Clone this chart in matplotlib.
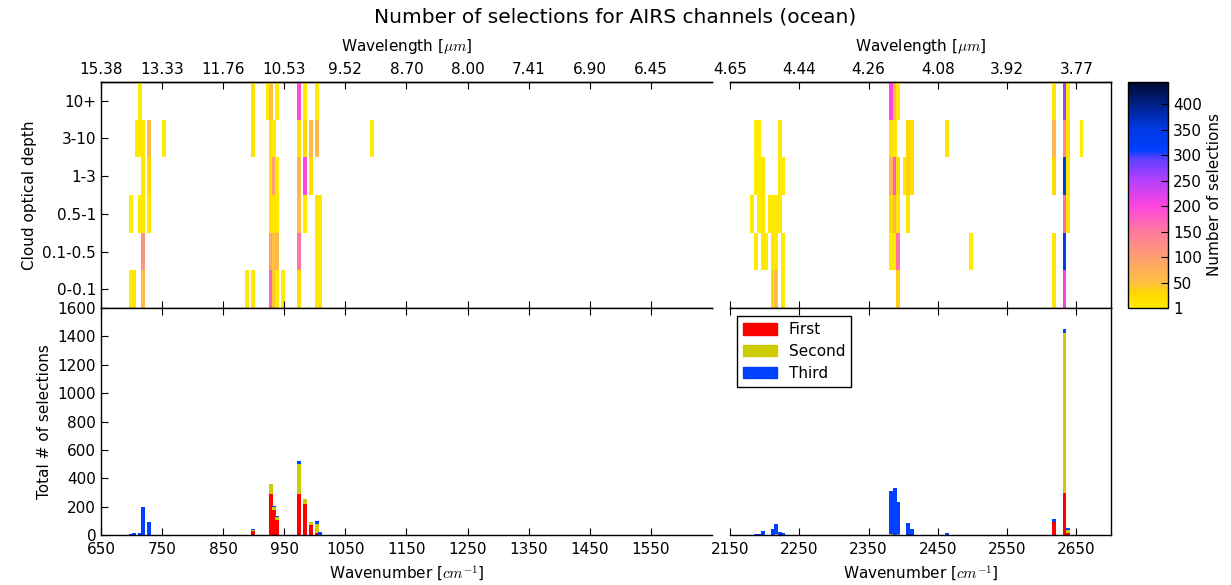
import numpy as np
import matplotlib
matplotlib.use("Agg")
import matplotlib.pyplot as plt
from matplotlib.colors import LinearSegmentedColormap, Normalize
from matplotlib.cm import ScalarMappable
from matplotlib.patches import Patch

plt.rcParams.update({
    "font.family": "DejaVu Sans",
    "font.size": 11,
    "mathtext.fontset": "cm",
    "xtick.direction": "in",
    "ytick.direction": "in",
    "xtick.major.size": 5,
    "ytick.major.size": 5,
    "xtick.major.pad": 5,
    "axes.linewidth": 1.0,
})

# Selected AIRS channels (wavenumber, cm^-1)
wavenumbers = [699.0, 704.0, 709.0, 714.0, 719.0, 729.0, 753.0, 889.0, 899.0, 923.0,
               928.0, 933.0, 938.0, 948.0, 974.0, 984.0, 994.0, 1003.5, 1008.5, 1093.5,
               2181.7, 2187.5, 2191.8, 2197.6, 2201.9, 2207.7, 2212.0, 2216.3, 2222.0, 2226.4,
               2382.2, 2388.0, 2392.3, 2402.4, 2406.7, 2412.5, 2463.0, 2497.6,
               2617.5, 2632.7, 2637.5, 2657.6]

depth_labels = ["0-0.1", "0.1-0.5", "0.5-1", "1-3", "3-10", "10+"]

# Number of selections per cloud optical depth class
sel_0_01 = [4, 12, 0, 0, 55, 0, 0, 3, 5, 0, 170, 45, 5, 3, 18, 0, 0, 8, 9, 0,
            0, 0, 0, 0, 0, 0, 28, 55, 0, 4, 0, 0, 35, 0, 0, 0, 0, 0, 8, 205, 0, 0]
sel_01_05 = [0, 0, 0, 0, 115, 0, 0, 0, 0, 0, 90, 50, 60, 0, 150, 0, 0, 8, 5, 0,
             0, 4, 0, 8, 4, 0, 10, 8, 0, 4, 5, 5, 155, 0, 0, 0, 0, 4, 8, 335, 0, 0]
sel_05_1 = [3, 0, 0, 4, 8, 8, 0, 0, 0, 0, 20, 10, 3, 0, 55, 5, 0, 8, 5, 0,
            3, 0, 4, 8, 0, 4, 5, 8, 7, 0, 22, 65, 5, 0, 8, 0, 0, 0, 0, 165, 10, 0]
sel_1_3 = [0, 0, 0, 0, 8, 25, 0, 0, 0, 0, 20, 100, 3, 0, 70, 200, 20, 0, 0, 0,
           0, 3, 3, 8, 0, 0, 0, 0, 7, 4, 65, 180, 20, 5, 35, 20, 0, 0, 25, 345, 10, 0]
sel_3_10 = [0, 0, 4, 4, 8, 55, 3, 0, 15, 0, 15, 3, 0, 0, 15, 25, 55, 60, 0, 4,
            0, 3, 3, 0, 0, 0, 0, 0, 6, 0, 15, 5, 0, 0, 30, 20, 12, 0, 60, 130, 20, 4]
sel_10p = [0, 0, 0, 4, 0, 0, 0, 0, 15, 3, 50, 0, 3, 0, 195, 3, 0, 3, 0, 0,
           0, 0, 0, 0, 0, 0, 0, 0, 0, 0, 200, 65, 5, 0, 0, 0, 0, 0, 5, 265, 8, 0]

# Total selections split by selection rank
first = [0, 0, 0, 0, 0, 0, 0, 0, 28, 0, 290, 175, 105, 0, 289, 218, 70, 12, 0, 0,
         0, 0, 0, 0, 0, 0, 0, 0, 0, 0, 0, 0, 0, 0, 0, 0, 0, 0, 92, 296, 14, 0]
second = [0, 3, 0, 0, 0, 0, 0, 0, 7, 0, 70, 20, 20, 0, 210, 35, 20, 63, 0, 0,
          0, 0, 0, 0, 0, 0, 0, 5, 0, 0, 5, 0, 5, 0, 0, 0, 0, 0, 0, 1127, 21, 0]
third = [7, 11, 3, 12, 195, 90, 3, 3, 5, 3, 0, 8, 8, 3, 22, 0, 0, 22, 19, 3,
         3, 8, 5, 25, 3, 3, 45, 70, 20, 12, 305, 331, 225, 3, 85, 42, 14, 3, 21, 29, 14, 3]

cbar_ticks = [1, 50, 100, 150, 200, 250, 300, 350, 400]

wn = np.array(wavenumbers)
rows = [np.array(r, float) for r in (sel_0_01, sel_01_05, sel_05_1, sel_1_3, sel_3_10, sel_10p)]
f1, f2, f3 = (np.array(v, float) for v in (first, second, third))

cmap = LinearSegmentedColormap.from_list("sel", [
    (0.00, "#ffec00"), (0.06, "#ffd800"), (0.11, "#ffc040"), (0.22, "#ffa070"),
    (0.34, "#ff78a0"), (0.45, "#ff44dd"), (0.57, "#b040ff"), (0.66, "#6040ff"),
    (0.70, "#0040ff"), (0.80, "#0038e0"), (1.00, "#000a30")])
norm = Normalize(vmin=1, vmax=443)

W, H = 1231, 585
fig = plt.figure(figsize=(W / 100, H / 100), dpi=100)


def rect(x0, y0, x1, y1):
    return [x0 / W, 1 - y1 / H, (x1 - x0) / W, (y1 - y0) / H]


ax_tl = fig.add_axes(rect(101, 82, 712, 308))
ax_tr = fig.add_axes(rect(730, 82, 1111, 308))
ax_bl = fig.add_axes(rect(101, 308, 712, 535))
ax_br = fig.add_axes(rect(730, 308, 1111, 535))
cax = fig.add_axes(rect(1128, 82, 1168, 308))

panels = [((650, 1650), np.arange(650, 1600, 100), 6.5, ax_tl, ax_bl),
          ((2150, 2700), np.arange(2150, 2700, 100), 5.4, ax_tr, ax_br)]

for (xlim, ticks, width, axh, axb) in panels:
    sel = (wn >= xlim[0]) & (wn <= xlim[1])
    x = wn[sel]
    # heatmap cells
    for i, r in enumerate(rows):
        v = r[sel]
        m = v > 0
        axh.bar(x[m], 1.0, bottom=i, width=width, color=cmap(norm(v[m])),
                linewidth=0, align="center")
    axh.set_xlim(*xlim)
    axh.set_ylim(0, 6)
    axh.set_xticks(ticks)
    axh.tick_params(axis="x", labelbottom=False, top=False)
    sec = axh.secondary_xaxis("top")
    sec.set_xticks(ticks, labels=[f"{1e4 / t:.2f}" for t in ticks])
    sec.tick_params(axis="x", pad=3.5)
    sec.set_xlabel(r"Wavelength [$\mu m$]", labelpad=8)

    # stacked totals
    a, b, c = f1[sel], f2[sel], f3[sel]
    axb.bar(x, a, width=width, color="#ff0000", linewidth=0)
    axb.bar(x, b, bottom=a, width=width, color="#cccc00", linewidth=0)
    axb.bar(x, c, bottom=a + b, width=width, color="#0040ff", linewidth=0)
    axb.set_xlim(*xlim)
    axb.set_ylim(0, 1600)
    axb.set_xticks(ticks)
    axb.set_xlabel(r"Wavenumber [$cm^{-1}$]", labelpad=5)
    axb.tick_params(axis="x", top=True)

for ax in (ax_tl, ax_bl):
    ax.spines["right"].set_visible(False)
    ax.yaxis.tick_left()
for ax in (ax_tr, ax_br):
    ax.spines["left"].set_visible(False)
    ax.tick_params(axis="y", left=False, right=False, labelleft=False)

ax_tl.set_yticks(np.arange(6) + 0.5, labels=depth_labels)
ax_tl.set_ylabel("Cloud optical depth")
ax_bl.set_yticks(np.arange(0, 1601, 200))
ax_bl.set_ylabel("Total # of selections")

handles = [Patch(color="#ff0000", label="First"),
           Patch(color="#cccc00", label="Second"),
           Patch(color="#0040ff", label="Third")]
leg = ax_br.legend(handles=handles, loc="upper left", bbox_to_anchor=(0.018, 0.965),
                   borderaxespad=0, fancybox=False, framealpha=1, edgecolor="black",
                   handlelength=2.2, handleheight=0.8, labelspacing=0.45, fontsize=11)
leg.get_frame().set_linewidth(1.0)

cb = fig.colorbar(ScalarMappable(norm=norm, cmap=cmap), cax=cax, ticks=cbar_ticks)
cb.set_label("Number of selections")
cb.ax.tick_params(direction="in", length=5)
cb.outline.set_linewidth(1.0)

fig.text(0.5, 1 - 17 / H, "Number of selections for AIRS channels (ocean)",
         ha="center", va="center", fontsize=14.5)

fig.savefig("out.png", dpi=100, facecolor="white")
